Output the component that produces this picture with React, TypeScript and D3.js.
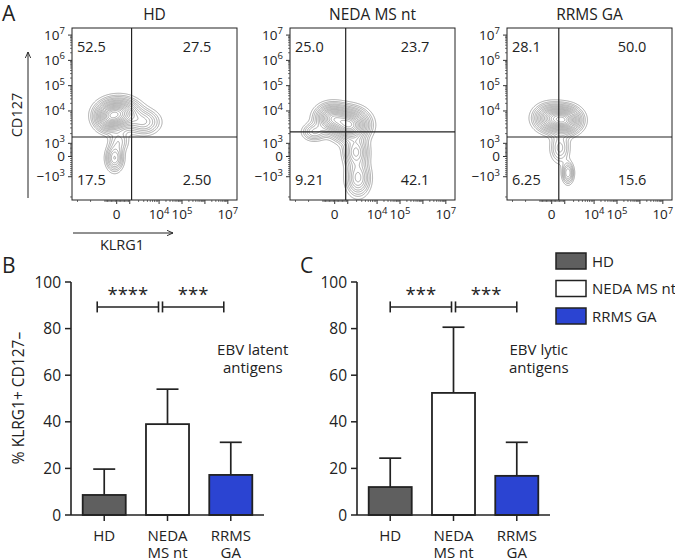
import React from 'react';
import * as d3 from 'd3';

const FONT = "'Open Sans', 'Noto Sans', sans-serif";

// ---------- Panel A data ----------
const flowTitles = ['HD', 'NEDA MS nt', 'RRMS GA'];
const quadUL = [52.5, 25.0, 28.1];
const quadUR = [27.5, 23.7, 50.0];
const quadLL = [17.5, 9.21, 6.25];
const quadLR = [2.5, 42.1, 15.6];
// gate positions in display units (KLRG1, CD127)
const gateKLRG1 = [0.65, 0.48, 0.31];
const gateCD127 = [0.77, 0.97, 0.77];
// populations: [KLRG1 centre, CD127 centre, spreadX, spreadY, weight] in display units
const popsHD = [
  [0.1, 1.72, 0.5, 0.32, 1.0],
  [-0.35, 1.5, 0.35, 0.3, 0.6],
  [1.2, 1.36, 0.4, 0.28, 0.35],
  [-0.09, -0.06, 0.22, 0.3, 0.45],
  [0.1, 0.6, 0.25, 0.25, 0.2],
];
const popsNEDA = [
  [0.67, 1.25, 0.45, 0.35, 1.0],
  [-0.12, 1.52, 0.4, 0.3, 0.75],
  [-0.9, 0.97, 0.3, 0.2, 0.25],
  [0.93, 0.18, 0.3, 0.35, 0.45],
  [1.02, -0.85, 0.3, 0.4, 0.4],
];
const popsRRMS = [
  [0.58, 1.44, 0.4, 0.3, 1.0],
  [-0.07, 1.52, 0.4, 0.3, 0.7],
  [0.36, 0.34, 0.25, 0.35, 0.25],
  [0.71, -0.65, 0.15, 0.25, 0.35],
];
const flowPops = [popsHD, popsNEDA, popsRRMS];
const flowYTicks = [-1e3, 0, 1e3, 1e4, 1e5, 1e6, 1e7];
const flowXTicks = [0, 1e4, 1e5, 1e7];
const contourLevels = [0.04, 0.07, 0.1, 0.14, 0.18, 0.23, 0.28, 0.34, 0.4, 0.46, 0.53, 0.6, 0.67, 0.74, 0.81, 0.88, 0.95];

// ---------- Panels B / C data ----------
const groups = ['HD', 'NEDA MS nt', 'RRMS GA'];
const groupLines = [['HD'], ['NEDA', 'MS nt'], ['RRMS', 'GA']];
const latentMean = [8.6, 39.0, 17.2];
const latentUpper = [19.7, 54.0, 31.2];
const lyticMean = [12.0, 52.4, 16.8];
const lyticUpper = [24.4, 80.6, 31.2];
const latentStars = ['****', '***'];
const lyticStars = ['***', '***'];
const barColors = ['#5f5f5f', '#ffffff', '#2b44d2'];
const barYTicks = [0, 20, 40, 60, 80, 100];

// display transforms (biexponential-like)
function yDisp(v: number) {
  if (v >= 1e4) return 1.8 + Math.log10(v / 1e4);
  if (v >= 1e3) return 0.52 + 1.28 * Math.log10(v / 1e3);
  if (v >= 0) return (0.52 * v) / 1e3;
  return (0.8 * v) / 1e3;
}
function xDisp(v: number) {
  if (v >= 1e4) return 1.85 + Math.log10(v / 1e4);
  if (v >= 1e3) return 0.57 + 1.28 * Math.log10(v / 1e3);
  return (0.57 * v) / 1e3;
}
function minorTicks(lo: number) {
  const out: number[] = [];
  for (let k = 100; k < 1000; k += 100) { out.push(k); out.push(-k); }
  for (let m = 2; m <= 5; m++) out.push(-m * 1e3);
  for (let e = 3; e < 7; e++) for (let m = 2; m <= 9; m++) out.push(m * Math.pow(10, e));
  return out.filter((v) => v >= lo);
}

function TickLabel({ v, x, y, anchor }: { v: number; x: number; y: number; anchor: string }) {
  if (v === 0) {
    return <text x={x} y={y} textAnchor={anchor} fontSize={13.5}>0</text>;
  }
  const e = Math.round(Math.log10(Math.abs(v)));
  return (
    <text x={x} y={y} textAnchor={anchor} fontSize={13.5}>
      {(v < 0 ? '\u2212' : '') + '10'}
      <tspan fontSize={9.5} dy={-5.5}>{e}</tspan>
    </text>
  );
}

const FW = 165, FH = 172, FTOP = 28;
const flowLefts = [72, 290, 507];

function FlowPanel({ idx }: { idx: number }) {
  const left = flowLefts[idx];
  const xS = d3.scaleLinear().domain([-1.95, 5.25]).range([0, FW]);
  const yS = d3.scaleLinear().domain([-1.72, 5.08]).range([FH, 0]);
  const pops = flowPops[idx];
  const values = new Array(FW * FH);
  let max = 0;
  for (let j = 0; j < FH; j++) {
    for (let i = 0; i < FW; i++) {
      const ux = xS.invert(i + 0.5), uy = yS.invert(j + 0.5);
      let s = 0;
      for (const [cx, cy, sx, sy, wt] of pops) {
        const dx = (ux - cx) / sx, dy = (uy - cy) / sy;
        s += wt * Math.exp(-0.5 * (dx * dx + dy * dy));
      }
      values[j * FW + i] = s;
      if (s > max) max = s;
    }
  }
  const cs = d3.contours().size([FW, FH]).thresholds(contourLevels.map((l) => l * max))(values);
  const path = d3.geoPath();
  const gx = xS(gateKLRG1[idx]);
  const gy = yS(gateCD127[idx]);
  const yMin = minorTicks(-1.72 / 0.8 * 1e3);
  const xMin = minorTicks(-1.95 / 0.57 * 1e3);
  const fmt = (v: number) => v.toPrecision(3);
  return (
    <g transform={`translate(${left},${FTOP})`}>
      <defs>
        <clipPath id={`clip${idx}`}><rect x={0} y={0} width={FW} height={FH} /></clipPath>
      </defs>
      <g clipPath={`url(#clip${idx})`}>
        {cs.map((c, i) => (
          <path key={i} d={path(c as any) || ''} fill="none" stroke="#808080" strokeWidth={0.65} />
        ))}
      </g>
      <rect x={0} y={0} width={FW} height={FH} fill="none" stroke="#222" strokeWidth={1} />
      <line x1={gx} x2={gx} y1={0} y2={FH} stroke="#222" strokeWidth={1.2} />
      <line x1={0} x2={FW} y1={gy} y2={gy} stroke="#222" strokeWidth={1.2} />
      {yMin.map((v, i) => {
        const y = yS(yDisp(v));
        if (y < 0 || y > FH) return null;
        return <line key={'ym' + i} x1={-2} x2={0} y1={y} y2={y} stroke="#333" strokeWidth={0.7} />;
      })}
      {flowYTicks.map((v) => {
        const y = yS(yDisp(v));
        return (
          <g key={'y' + v}>
            <line x1={-4} x2={0} y1={y} y2={y} stroke="#333" strokeWidth={1} />
            <TickLabel v={v} x={-7} y={y + 4.5} anchor="end" />
          </g>
        );
      })}
      {xMin.map((v, i) => {
        const x = xS(xDisp(v));
        if (x < 0 || x > FW) return null;
        return <line key={'xm' + i} x1={x} x2={x} y1={FH} y2={FH + 2} stroke="#333" strokeWidth={0.7} />;
      })}
      {[0, 1e3, 1e4, 1e5, 1e6, 1e7].map((v) => {
        const x = xS(xDisp(v));
        return <line key={'xt' + v} x1={x} x2={x} y1={FH} y2={FH + 4} stroke="#333" strokeWidth={1} />;
      })}
      {flowXTicks.map((v) => (
        <TickLabel key={'xl' + v} v={v} x={xS(xDisp(v))} y={FH + 19} anchor="middle" />
      ))}
      <text x={5} y={24} fontSize={14.5}>{fmt(quadUL[idx])}</text>
      <text x={FW - 40} y={24} fontSize={14.5} textAnchor="middle">{fmt(quadUR[idx])}</text>
      <text x={5} y={FH - 15} fontSize={14.5}>{fmt(quadLL[idx])}</text>
      <text x={FW - 40} y={FH - 15} fontSize={14.5} textAnchor="middle">{fmt(quadLR[idx])}</text>
      <text x={FW / 2} y={-8} fontSize={15.5} textAnchor="middle">{flowTitles[idx]}</text>
    </g>
  );
}

const BY0 = 515, BY100 = 282, BW = 193;

function BarPanel({ x0, means, uppers, stars, note, shift }: {
  x0: number; means: number[]; uppers: number[]; stars: string[]; note: string[]; shift: number;
}) {
  const xs = d3.scaleBand().domain(groups).range([x0, x0 + BW]).paddingInner(0.32).paddingOuter(0.185);
  const ys = d3.scaleLinear().domain([0, 100]).range([BY0, BY100]);
  const bw = xs.bandwidth();
  const cx = (i: number) => (xs(groups[i]) as number) + bw / 2;
  const brY = ys(89.3);
  const pairs = [[0, 1], [1, 2]];
  return (
    <g>
      {groups.map((g, i) => {
        const x = xs(g) as number;
        return (
          <g key={g}>
            <line x1={cx(i)} x2={cx(i)} y1={ys(means[i])} y2={ys(uppers[i])} stroke="#222" strokeWidth={1.7} />
            <line x1={cx(i) - 11} x2={cx(i) + 11} y1={ys(uppers[i])} y2={ys(uppers[i])} stroke="#222" strokeWidth={1.7} />
            <rect x={x} y={ys(means[i])} width={bw} height={ys(0) - ys(means[i])} fill={barColors[i]} stroke="#222" strokeWidth={1.8} />
            <line x1={cx(i)} x2={cx(i)} y1={BY0} y2={BY0 + 6} stroke="#222" strokeWidth={1.5} />
            {groupLines[i].map((t, k) => (
              <text key={k} x={cx(i)} y={541 + k * 17} fontSize={15} textAnchor="middle">{t}</text>
            ))}
          </g>
        );
      })}
      <line x1={x0} x2={x0} y1={ys(0)} y2={ys(100)} stroke="#222" strokeWidth={1.6} />
      <line x1={x0} x2={x0 + BW} y1={BY0} y2={BY0} stroke="#222" strokeWidth={1.6} />
      {barYTicks.map((t) => (
        <g key={t}>
          <line x1={x0 - 6} x2={x0} y1={ys(t)} y2={ys(t)} stroke="#222" strokeWidth={1.5} />
          <text x={x0 - 10} y={ys(t) + 5.5} fontSize={15.5} textAnchor="end">{t}</text>
        </g>
      ))}
      {pairs.map(([a, b], k) => {
        const xa = cx(a) + shift + (k === 1 ? 2 : 0);
        const xb = cx(b) + shift - (k === 0 ? 2 : 0);
        return (
          <g key={k}>
            <line x1={xa} x2={xb} y1={brY} y2={brY} stroke="#222" strokeWidth={1.6} />
            <line x1={xa} x2={xa} y1={brY - 5.5} y2={brY + 5.5} stroke="#222" strokeWidth={1.6} />
            <line x1={xb} x2={xb} y1={brY - 5.5} y2={brY + 5.5} stroke="#222" strokeWidth={1.6} />
            <text x={(xa + xb) / 2} y={brY - 6} fontSize={18.5} textAnchor="middle">{stars[k]}</text>
          </g>
        );
      })}
      {note.map((t, k) => (
        <text key={t} x={cx(2) + 22} y={355 + k * 18} fontSize={15} textAnchor="middle">{t}</text>
      ))}
    </g>
  );
}

export default function App() {
  return (
    <svg width={675} height={560} style={{ position: 'absolute', left: 0, top: 0, background: '#fff' }}
      fontFamily={FONT} fill="#222">
      <rect width={675} height={560} fill="#fff" />
      <text x={2} y={21} fontSize={21}>A</text>
      <text x={2} y={273} fontSize={21}>B</text>
      <text x={300} y={273} fontSize={21}>C</text>
      {[0, 1, 2].map((i) => <FlowPanel key={i} idx={i} />)}
      <defs>
        <marker id="arr" viewBox="0 0 10 10" refX={9} refY={5} markerWidth={7} markerHeight={7} orient="auto">
          <path d="M0,1 L9,5 L0,9" fill="none" stroke="#222" strokeWidth={1.3} />
        </marker>
      </defs>
      <line x1={28} x2={28} y1={198} y2={52} stroke="#222" strokeWidth={1} markerEnd="url(#arr)" />
      <text transform="translate(22,115) rotate(-90)" fontSize={14.5} textAnchor="middle">CD127</text>
      <line x1={73} x2={173} y1={233} y2={233} stroke="#222" strokeWidth={1} markerEnd="url(#arr)" />
      <text x={122} y={250} fontSize={14.5} textAnchor="middle">KLRG1</text>

      <text transform="translate(24,398) rotate(-90)" fontSize={15.5} textAnchor="middle">% KLRG1+ CD127–</text>
      <BarPanel x0={71} means={latentMean} uppers={latentUpper} stars={latentStars}
        note={['EBV latent', 'antigens']} shift={-7} />
      <BarPanel x0={357} means={lyticMean} uppers={lyticUpper} stars={lyticStars}
        note={['EBV lytic', 'antigens']} shift={0} />

      {groups.map((g, i) => (
        <g key={g}>
          <rect x={556} y={253 + i * 27.5} width={30} height={16} fill={barColors[i]} stroke="#222" strokeWidth={1.5} />
          <text x={592} y={266.5 + i * 27.5} fontSize={15}>{g}</text>
        </g>
      ))}
    </svg>
  );
}
